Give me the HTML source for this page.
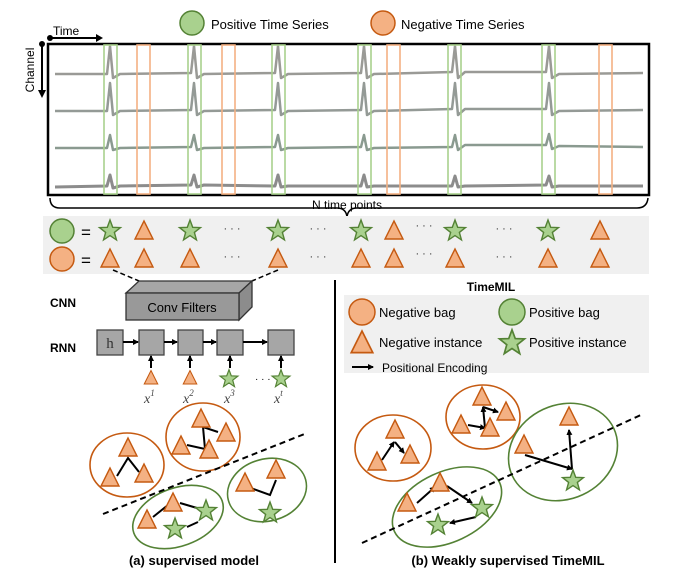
<!DOCTYPE html>
<html><head><meta charset="utf-8"><style>
html,body{margin:0;padding:0;background:#fff;}
svg{display:block;font-family:"Liberation Sans",sans-serif;}
</style></head><body>
<svg width="673" height="582" viewBox="0 0 673 582" xmlns="http://www.w3.org/2000/svg">
<defs>
<path id="tri" d="M0,-10 L9,8 L-9,8 Z" fill="#f4b183" stroke="#c55a11" stroke-width="1.4"/>
<polygon id="star" points="0,-11 2.7,-3.72 10.46,-3.4 4.37,1.42 6.47,8.9 0,4.6 -6.47,8.9 -4.37,1.42 -10.46,-3.4 -2.7,-3.72" fill="#a9d18e" stroke="#548235" stroke-width="1.4"/>
<marker id="ah" markerWidth="6" markerHeight="6" refX="5" refY="3" orient="auto" markerUnits="userSpaceOnUse"><path d="M0,0 L6,3 L0,6 Z" fill="#000"/></marker>
</defs>

<!-- legend top -->
<circle cx="192" cy="23" r="12" fill="#a9d18e" stroke="#548235" stroke-width="1.5"/>
<text x="211" y="29" font-size="13">Positive Time Series</text>
<circle cx="383" cy="23" r="12" fill="#f4b183" stroke="#c55a11" stroke-width="1.5"/>
<text x="401" y="29" font-size="13">Negative Time Series</text>

<!-- axes -->
<text x="53" y="35" font-size="12">Time</text>
<circle cx="50" cy="38" r="3" fill="#000"/>
<line x1="50" y1="38" x2="98" y2="38" stroke="#000" stroke-width="2"/>
<path d="M96,34 L103,38 L96,42 Z" fill="#000"/>
<circle cx="42" cy="44" r="3" fill="#000"/>
<line x1="42" y1="44" x2="42" y2="92" stroke="#000" stroke-width="2"/>
<path d="M38,90 L42,98 L46,90 Z" fill="#000"/>
<text transform="translate(34,70) rotate(-90)" text-anchor="middle" font-size="12">Channel</text>

<!-- main box -->
<rect x="48" y="44" width="601" height="151" fill="#fff" stroke="#000" stroke-width="2.5"/>

<!-- traces -->
<g fill="none" stroke-linejoin="round">
<path stroke="#9a9a96" stroke-width="2.5" d="M55,74 L107,74 L110,46 L113,78 L120,74 L191,73 L194,46 L197,78 L204,74 L275,73 L278,46 L281,78 L288,74 L361,73 L364,46 L367,78 L374,74 L452,72 L455,46 L458,78 L465,72 L546,72 L549,46 L552,78 L559,74 L643,73"/>
<path stroke="#949a96" stroke-width="2.5" d="M55,111 L107,111 L110,83 L113,115 L120,111 L191,110 L194,83 L197,115 L204,111 L275,110 L278,83 L281,115 L288,111 L361,110 L364,83 L367,115 L374,111 L452,109 L455,83 L458,115 L465,109 L546,109 L549,83 L552,115 L559,111 L643,110"/>
<path stroke="#8a9a90" stroke-width="2.5" d="M55,148 L107,148 L110,135 L113,150 L120,148 L191,147 L194,135 L197,150 L204,148 L275,147 L278,135 L281,150 L288,148 L361,147 L364,135 L367,150 L374,148 L452,147 L455,135 L458,150 L465,145 L546,145 L549,134 L552,149 L559,146 L643,147"/>
<path stroke="#8c8c8c" stroke-width="3" d="M55,187 L107,186 L110,175 L113,188 L120,186 L191,185 L194,175 L197,187 L204,185 L275,186 L278,175 L281,187 L288,186 L361,186 L364,175 L367,187 L374,186 L452,186 L455,176 L458,187 L465,186 L546,185 L549,176 L552,187 L559,186 L643,186"/>
</g>
<!-- windows -->
<g fill="none" stroke-width="1.6">
<rect x="104" y="45" width="13" height="149" stroke="#a9d18e"/>
<rect x="188" y="45" width="13" height="149" stroke="#a9d18e"/>
<rect x="272" y="45" width="13" height="149" stroke="#a9d18e"/>
<rect x="358" y="45" width="13" height="149" stroke="#a9d18e"/>
<rect x="448" y="45" width="13" height="149" stroke="#a9d18e"/>
<rect x="542" y="45" width="13" height="149" stroke="#a9d18e"/>
<rect x="137" y="45" width="13" height="149" stroke="#f4b183"/>
<rect x="222" y="45" width="13" height="149" stroke="#f4b183"/>
<rect x="387" y="45" width="13" height="149" stroke="#f4b183"/>
<rect x="599" y="45" width="13" height="149" stroke="#f4b183"/>
</g>

<!-- brace -->
<path d="M50,198 Q50,208 60,208 L337,208 Q346,208 347,217 Q348,208 357,208 L637,208 Q647,208 648,198" fill="none" stroke="#000" stroke-width="1.5"/>
<text x="347" y="209" text-anchor="middle" font-size="12">N time points</text>

<!-- band -->
<rect x="43" y="216" width="606" height="58" fill="#f0f0f0"/>
<circle cx="62" cy="231" r="12" fill="#a9d18e" stroke="#548235" stroke-width="1.5"/>
<circle cx="62" cy="259" r="12" fill="#f4b183" stroke="#c55a11" stroke-width="1.5"/>
<text x="86" y="238" text-anchor="middle" font-size="17">=</text>
<text x="86" y="266" text-anchor="middle" font-size="17">=</text>
<use href="#star" x="110" y="231"/><use href="#tri" x="144" y="231"/><use href="#star" x="190" y="231"/>
<use href="#star" x="278" y="231"/><use href="#star" x="361" y="231"/><use href="#tri" x="394" y="231"/>
<use href="#star" x="455" y="231"/><use href="#star" x="548" y="231"/><use href="#tri" x="600" y="231"/>
<use href="#tri" x="110" y="259"/><use href="#tri" x="144" y="259"/><use href="#tri" x="190" y="259"/>
<use href="#tri" x="278" y="259"/><use href="#tri" x="361" y="259"/><use href="#tri" x="394" y="259"/>
<use href="#tri" x="455" y="259"/><use href="#tri" x="548" y="259"/><use href="#tri" x="600" y="259"/>
<g font-size="11" text-anchor="middle" fill="#333">
<text x="232" y="232">· · ·</text><text x="318" y="232">· · ·</text><text x="424" y="229">· · ·</text><text x="504" y="232">· · ·</text>
<text x="232" y="260">· · ·</text><text x="318" y="260">· · ·</text><text x="424" y="257">· · ·</text><text x="504" y="260">· · ·</text>
</g>

<!-- dashed to conv -->
<line x1="113" y1="270" x2="139" y2="281" stroke="#000" stroke-width="1.5" stroke-dasharray="5,3"/>
<line x1="278" y1="270" x2="252" y2="281" stroke="#000" stroke-width="1.5" stroke-dasharray="5,3"/>

<!-- CNN -->
<text x="50" y="307" font-size="12" font-weight="bold">CNN</text>
<path d="M126,293 L139,281 L252,281 L239,293 Z" fill="#a6a6a6" stroke="#333" stroke-width="1.3"/>
<path d="M239,293 L252,281 L252,307 L239,320 Z" fill="#8c8c8c" stroke="#333" stroke-width="1.3"/>
<rect x="126" y="293" width="113" height="27" fill="#999" stroke="#333" stroke-width="1.3"/>
<text x="182" y="312" text-anchor="middle" font-size="13">Conv Filters</text>

<!-- RNN -->
<text x="50" y="352" font-size="12" font-weight="bold">RNN</text>
<g fill="#a6a6a6" stroke="#444" stroke-width="1.3">
<rect x="97" y="330" width="26" height="25"/>
<rect x="139" y="330" width="25" height="25"/>
<rect x="178" y="330" width="25" height="25"/>
<rect x="217" y="330" width="26" height="25"/>
<rect x="268" y="330" width="26" height="25"/>
</g>
<text x="110" y="348" text-anchor="middle" font-size="15" font-family="Liberation Serif,serif" fill="#333">h</text>
<g stroke="#000" stroke-width="2" marker-end="url(#ah)">
<line x1="123" y1="342" x2="138" y2="342"/>
<line x1="164" y1="342" x2="177" y2="342"/>
<line x1="203" y1="342" x2="216" y2="342"/>
<line x1="243" y1="342" x2="267" y2="342"/>
<line x1="151" y1="368" x2="151" y2="356"/>
<line x1="190" y1="368" x2="190" y2="356"/>
<line x1="230" y1="368" x2="230" y2="356"/>
<line x1="281" y1="368" x2="281" y2="356"/>
</g>
<g transform="translate(151,378) scale(0.75)"><use href="#tri"/></g>
<g transform="translate(190,378) scale(0.75)"><use href="#tri"/></g>
<g transform="translate(229,379) scale(0.85)"><use href="#star"/></g>
<g transform="translate(281,379) scale(0.85)"><use href="#star"/></g>
<text x="255" y="382" font-size="10">· · ·</text>
<g font-family="Liberation Serif,serif" font-style="italic" font-size="14" fill="#444">
<text x="144" y="403">x<tspan font-size="9" dy="-7">1</tspan></text>
<text x="183" y="403">x<tspan font-size="9" dy="-7">2</tspan></text>
<text x="224" y="403">x<tspan font-size="9" dy="-7">3</tspan></text>
<text x="274" y="403">x<tspan font-size="9" dy="-7">t</tspan></text>
</g>

<!-- (a) bags -->
<g fill="none" stroke-width="1.6">
<ellipse cx="127" cy="465" rx="37" ry="32" stroke="#c55a11"/>
<ellipse cx="203" cy="437" rx="37" ry="34" stroke="#c55a11"/>
<ellipse cx="178" cy="517" rx="47" ry="29" transform="rotate(-20 178 517)" stroke="#548235"/>
<ellipse cx="267" cy="490" rx="40" ry="31" transform="rotate(-15 267 490)" stroke="#548235"/>
</g>
<line x1="103" y1="514" x2="307" y2="433" stroke="#000" stroke-width="2" stroke-dasharray="6,4"/>
<g stroke="#000" stroke-width="2" fill="none">
<polyline points="117,476 128,458 139,472"/>
<polyline points="187,445 205,449 203,427 218,432"/>
<line x1="153" y1="517" x2="168" y2="505"/>
<line x1="180" y1="503" x2="197" y2="508"/>
<line x1="187" y1="527" x2="198" y2="522"/>
<polyline points="245,486 270,495 276,480"/>
</g>
<use href="#tri" x="128" y="448"/><use href="#tri" x="110" y="478"/><use href="#tri" x="144" y="474"/>
<use href="#tri" x="201" y="419"/><use href="#tri" x="181" y="446"/><use href="#tri" x="226" y="433"/><use href="#tri" x="209" y="450"/>
<use href="#tri" x="147" y="520"/><use href="#tri" x="173" y="503"/><use href="#star" x="206" y="511"/><use href="#star" x="175" y="529"/>
<use href="#tri" x="245" y="483"/><use href="#tri" x="276" y="470"/><use href="#star" x="270" y="513"/>
<text x="194" y="565" text-anchor="middle" font-size="13" font-weight="bold">(a) supervised model</text>

<!-- divider -->
<line x1="335" y1="280" x2="335" y2="563" stroke="#000" stroke-width="2"/>

<!-- TimeMIL legend -->
<text x="491" y="291" text-anchor="middle" font-size="12" font-weight="bold">TimeMIL</text>
<rect x="344" y="295" width="305" height="78" fill="#f0f0f0"/>
<circle cx="362" cy="312" r="13" fill="#f4b183" stroke="#c55a11" stroke-width="1.5"/>
<text x="379" y="317" font-size="13">Negative bag</text>
<circle cx="512" cy="312" r="13" fill="#a9d18e" stroke="#548235" stroke-width="1.5"/>
<text x="529" y="317" font-size="13">Positive bag</text>
<g transform="translate(362,343) scale(1.2)"><use href="#tri"/></g>
<text x="379" y="347" font-size="13">Negative instance</text>
<g transform="translate(512,343) scale(1.2)"><use href="#star"/></g>
<text x="529" y="347" font-size="13">Positive instance</text>
<line x1="352" y1="367" x2="373" y2="367" stroke="#000" stroke-width="2" marker-end="url(#ah)"/>
<text x="382" y="372" font-size="12">Positional Encoding</text>

<!-- (b) bags -->
<g fill="none" stroke-width="1.6">
<ellipse cx="393" cy="448" rx="38" ry="33" stroke="#c55a11"/>
<ellipse cx="483" cy="417" rx="37" ry="32" stroke="#c55a11"/>
<ellipse cx="563" cy="452" rx="56" ry="47" transform="rotate(-25 563 452)" stroke="#548235"/>
<ellipse cx="447" cy="507" rx="58" ry="35" transform="rotate(-25 447 507)" stroke="#548235"/>
</g>
<line x1="362" y1="543" x2="643" y2="414" stroke="#000" stroke-width="2" stroke-dasharray="6,4"/>
<g stroke="#000" stroke-width="2" fill="none" marker-end="url(#ah)">
<line x1="382" y1="460" x2="394" y2="442"/>
<line x1="395" y1="442" x2="404" y2="453"/>
<line x1="468" y1="425" x2="485" y2="428"/>
<line x1="485" y1="428" x2="483" y2="407"/>
<line x1="483" y1="407" x2="498" y2="412"/>
<line x1="525" y1="455" x2="572" y2="469"/>
<line x1="572" y1="469" x2="569" y2="430"/>
<line x1="417" y1="503" x2="435" y2="487"/>
<line x1="447" y1="486" x2="472" y2="503"/>
<line x1="476" y1="517" x2="450" y2="523"/>
</g>
<use href="#tri" x="395" y="430"/><use href="#tri" x="377" y="462"/><use href="#tri" x="410" y="455"/>
<use href="#tri" x="482" y="397"/><use href="#tri" x="461" y="425"/><use href="#tri" x="506" y="412"/><use href="#tri" x="490" y="428"/>
<use href="#tri" x="569" y="417"/><use href="#tri" x="524" y="445"/><use href="#star" x="573" y="481"/>
<use href="#tri" x="407" y="503"/><use href="#tri" x="440" y="483"/><use href="#star" x="482" y="508"/><use href="#star" x="438" y="525"/>
<text x="508" y="565" text-anchor="middle" font-size="13" font-weight="bold">(b) Weakly supervised TimeMIL</text>
</svg>
</body></html>
